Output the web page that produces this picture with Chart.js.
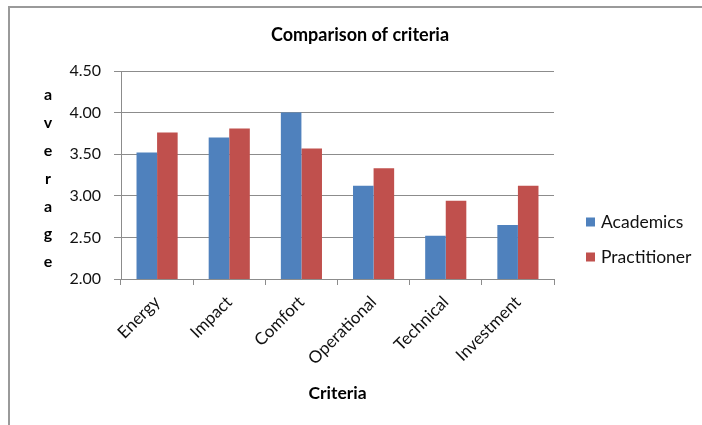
<!DOCTYPE html>
<html>
<head>
<meta charset="utf-8">
<script src="https://cdn.jsdelivr.net/npm/chart.js@4"></script>
<style>
  html, body { margin: 0; padding: 0; background: #fff; }
  #wrap { width: 702px; height: 425px; position: relative; }
</style>
</head>
<body>
<div id="wrap"><canvas id="c" width="702" height="425"></canvas></div>
<script>
const categories = ['Energy', 'Impact', 'Comfort', 'Operational', 'Technical', 'Investment'];
const academics = [3.52, 3.70, 4.00, 3.12, 2.52, 2.65];
const practitioner = [3.76, 3.81, 3.57, 3.33, 2.94, 3.12];
const seriesNames = ['Academics', 'Practitioner'];
const chartTitle = 'Comparison of criteria';
const xTitle = 'Criteria';
const yTitle = 'average';

const FONT = 'Lato, "Liberation Sans", sans-serif';
const GRID = '#8c8c8c';

const framePlugin = {
  id: 'frame',
  beforeDraw(chart) {
    const ctx = chart.ctx;
    ctx.save();
    ctx.fillStyle = '#fff';
    ctx.fillRect(0, 0, chart.width, chart.height);
    ctx.strokeStyle = '#9a9a9a';
    ctx.lineWidth = 2;
    ctx.beginPath();
    ctx.moveTo(9, chart.height);
    ctx.lineTo(9, 7);
    ctx.lineTo(chart.width, 7);
    ctx.stroke();
    ctx.restore();
  }
};

const sideTextPlugin = {
  id: 'sideText',
  afterDraw(chart) {
    const ctx = chart.ctx;
    const a = chart.chartArea;
    ctx.save();
    // chart title
    ctx.font = 'bold 18px ' + FONT;
    ctx.fillStyle = '#000';
    ctx.textAlign = 'center';
    ctx.textBaseline = 'middle';
    ctx.fillText(chartTitle, 360, 35);
    // stacked vertical y title
    ctx.font = 'bold 16px ' + FONT;
    const letters = yTitle.split('');
    const sp = 27.9;
    const mid = (a.top + a.bottom) / 2 + 3.5;
    letters.forEach((ch, i) => {
      ctx.fillText(ch, 48, mid + (i - (letters.length - 1) / 2) * sp);
    });
    // legend
    ctx.font = '17.5px ' + FONT;
    ctx.textAlign = 'left';
    const ys = [222, 257];
    chart.data.datasets.forEach((ds, i) => {
      const y = ys[i];
      ctx.fillStyle = ds.backgroundColor;
      ctx.fillRect(a.right + 32, y - 4.5, 9, 9);
      ctx.fillStyle = '#111';
      ctx.fillText(ds.label, a.right + 47, y + 0.5);
    });
    ctx.restore();
  }
};

new Chart(document.getElementById('c'), {
  type: 'bar',
  data: {
    labels: categories,
    datasets: [
      { label: seriesNames[0], data: academics, backgroundColor: '#4F81BD', barPercentage: 1, categoryPercentage: 0.57 },
      { label: seriesNames[1], data: practitioner, backgroundColor: '#C0504D', barPercentage: 1, categoryPercentage: 0.57 }
    ]
  },
  options: {
    responsive: false,
    animation: false,
    events: [],
    layout: { padding: { left: 9, right: 148, top: 71, bottom: 0 } },
    plugins: {
      legend: { display: false },
      tooltip: { enabled: false },
      title: { display: false }
    },
    scales: {
      x: {
        offset: true,
        grid: { display: true, drawOnChartArea: false, drawTicks: true, tickLength: 6, color: GRID, offset: true },
        border: { display: true, color: GRID, width: 1 },
        ticks: { color: '#111', font: { family: FONT, size: 17 }, minRotation: 45, maxRotation: 45, padding: 7 },
        title: { display: true, text: xTitle, color: '#000', font: { family: FONT, size: 17.5, weight: 'bold' }, padding: { top: 0, bottom: 21 } },
        afterFit(scale) { scale.height = 146; }
      },
      y: {
        min: 2, max: 4.5,
        grid: { color: GRID, lineWidth: 1, drawTicks: true, tickLength: 7 },
        border: { display: true, color: GRID, width: 1 },
        ticks: { stepSize: 0.5, color: '#111', font: { family: FONT, size: 16 }, padding: 13, callback: v => Number(v).toFixed(2) },
        afterFit(scale) { scale.width = 112; }
      }
    }
  },
  plugins: [framePlugin, sideTextPlugin]
});
</script>
</body>
</html>
